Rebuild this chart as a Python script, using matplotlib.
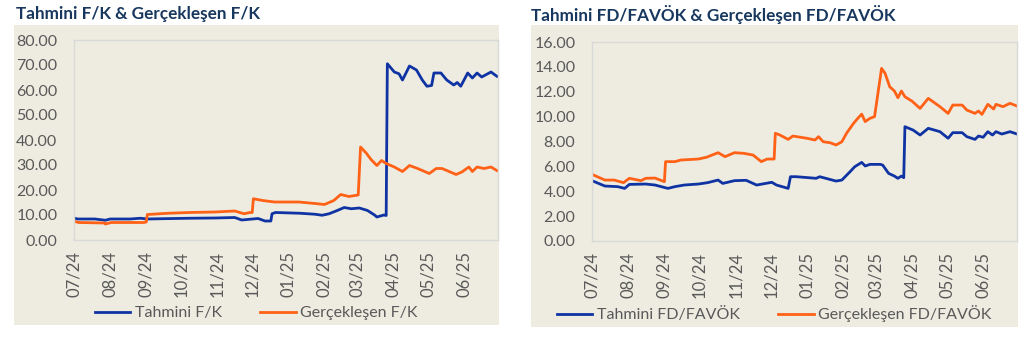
import matplotlib
matplotlib.use("Agg")
import matplotlib.pyplot as plt
import matplotlib.dates as mdates
import pandas as pd
from matplotlib.patches import Rectangle

plt.rcParams['font.family'] = ['Lato', 'DejaVu Sans']

# --- sol grafik: F/K ---
fk_tahmini_tarih = ["2024-07-01", "2024-07-04", "2024-07-19", "2024-07-28", "2024-08-01", "2024-08-18",
                    "2024-08-27", "2024-09-02", "2024-09-13", "2024-10-08", "2024-10-30", "2024-11-16",
                    "2024-11-22", "2024-11-29", "2024-12-06", "2024-12-12", "2024-12-17", "2024-12-18",
                    "2024-12-21", "2025-01-11", "2025-01-24", "2025-01-30", "2025-02-05", "2025-02-12",
                    "2025-02-18", "2025-02-24", "2025-03-03", "2025-03-10", "2025-03-16", "2025-03-18",
                    "2025-03-24", "2025-03-26", "2025-03-27", "2025-04-02", "2025-04-06", "2025-04-09",
                    "2025-04-15", "2025-04-21", "2025-04-26", "2025-04-30", "2025-05-04", "2025-05-06",
                    "2025-05-12", "2025-05-17", "2025-05-23", "2025-05-26", "2025-05-29", "2025-06-04",
                    "2025-06-08", "2025-06-12", "2025-06-16", "2025-06-24", "2025-06-29"]
fk_tahmini = [8.8, 8.4, 8.4, 7.9, 8.4, 8.4,
              8.7, 8.4, 8.5, 8.7, 8.8, 9.0,
              8.0, 8.3, 8.6, 7.6, 7.6, 10.5,
              11.0, 10.7, 10.3, 9.9, 10.5, 11.8,
              13.0, 12.5, 12.8, 11.8, 10.0, 9.2,
              10.0, 9.8, 70.5, 67.2, 66.5, 64.0,
              69.6, 68.0, 64.0, 61.5, 61.8, 66.8,
              66.8, 64.0, 62.0, 63.0, 61.5, 66.8,
              64.8, 66.8, 65.2, 67.2, 65.5]

fk_gercek_tarih = ["2024-07-01", "2024-07-05", "2024-07-27", "2024-07-28", "2024-08-02", "2024-08-30",
                   "2024-09-01", "2024-09-02", "2024-09-20", "2024-10-08", "2024-10-30", "2024-11-16",
                   "2024-11-24", "2024-11-29", "2024-12-01", "2024-12-02", "2024-12-10", "2024-12-20",
                   "2025-01-10", "2025-01-24", "2025-02-01", "2025-02-09", "2025-02-15", "2025-02-22",
                   "2025-03-02", "2025-03-04", "2025-03-09", "2025-03-13", "2025-03-18", "2025-03-22",
                   "2025-03-26", "2025-04-02", "2025-04-09", "2025-04-15", "2025-04-22", "2025-05-02",
                   "2025-05-08", "2025-05-13", "2025-05-25", "2025-05-30", "2025-06-05", "2025-06-08",
                   "2025-06-12", "2025-06-18", "2025-06-24", "2025-06-29"]
fk_gercek = [7.5, 7.0, 6.8, 6.4, 7.0, 7.0,
             7.2, 10.2, 10.7, 11.0, 11.2, 11.6,
             10.5, 11.0, 11.0, 16.5, 15.8, 15.2,
             15.2, 14.6, 14.2, 15.8, 18.2, 17.4,
             18.0, 37.2, 34.7, 32.2, 29.8, 31.8,
             30.6, 29.2, 27.4, 29.8, 28.6, 26.6,
             28.6, 28.6, 26.2, 27.2, 29.2, 27.4,
             29.2, 28.6, 29.2, 27.8]

# --- sağ grafik: FD/FAVÖK ---
fd_tahmini_tarih = ["2024-07-01", "2024-07-12", "2024-07-23", "2024-07-29", "2024-08-02", "2024-08-16",
                    "2024-08-24", "2024-09-04", "2024-09-10", "2024-09-18", "2024-09-30", "2024-10-08",
                    "2024-10-17", "2024-10-21", "2024-10-31", "2024-11-10", "2024-11-19", "2024-12-02",
                    "2024-12-06", "2024-12-16", "2024-12-18", "2024-12-23", "2025-01-09", "2025-01-12",
                    "2025-01-26", "2025-01-31", "2025-02-07", "2025-02-11", "2025-02-17", "2025-02-20",
                    "2025-02-24", "2025-03-05", "2025-03-07", "2025-03-12", "2025-03-17", "2025-03-20",
                    "2025-03-23", "2025-03-25", "2025-03-26", "2025-04-02", "2025-04-08", "2025-04-15",
                    "2025-04-25", "2025-05-02", "2025-05-06", "2025-05-14", "2025-05-18", "2025-05-25",
                    "2025-05-28", "2025-06-01", "2025-06-05", "2025-06-09", "2025-06-12", "2025-06-17",
                    "2025-06-24", "2025-06-30"]
fd_tahmini = [4.85, 4.42, 4.37, 4.23, 4.55, 4.58,
              4.50, 4.23, 4.37, 4.50, 4.58, 4.69,
              4.90, 4.63, 4.85, 4.88, 4.50, 4.72,
              4.50, 4.23, 5.17, 5.17, 5.04, 5.17,
              4.82, 4.90, 5.57, 5.97, 6.32, 6.03,
              6.16, 6.16, 6.10, 5.44, 5.22, 5.04,
              5.22, 5.09, 9.19, 8.92, 8.52, 9.06,
              8.79, 8.26, 8.71, 8.71, 8.39, 8.17,
              8.44, 8.34, 8.79, 8.52, 8.79, 8.60,
              8.79, 8.60]

fd_gercek_tarih = ["2024-07-01", "2024-07-12", "2024-07-20", "2024-07-28", "2024-08-02", "2024-08-12",
                   "2024-08-16", "2024-08-24", "2024-09-01", "2024-09-02", "2024-09-10", "2024-09-15",
                   "2024-09-30", "2024-10-07", "2024-10-17", "2024-10-23", "2024-10-31", "2024-11-08",
                   "2024-11-16", "2024-11-23", "2024-11-28", "2024-12-04", "2024-12-05", "2024-12-09",
                   "2024-12-16", "2024-12-20", "2025-01-01", "2025-01-08", "2025-01-11", "2025-01-15",
                   "2025-01-21", "2025-01-26", "2025-01-31", "2025-02-04", "2025-02-07", "2025-02-10",
                   "2025-02-14", "2025-02-17", "2025-02-20", "2025-02-24", "2025-02-28", "2025-03-06",
                   "2025-03-09", "2025-03-13", "2025-03-17", "2025-03-20", "2025-03-23", "2025-03-26",
                   "2025-04-01", "2025-04-08", "2025-04-15", "2025-04-25", "2025-05-02", "2025-05-06",
                   "2025-05-14", "2025-05-18", "2025-05-25", "2025-05-28", "2025-05-31", "2025-06-05",
                   "2025-06-10", "2025-06-12", "2025-06-18", "2025-06-24", "2025-06-30"]
fd_gercek = [5.36, 4.90, 4.90, 4.69, 5.04, 4.85,
             5.04, 5.06, 4.77, 6.38, 6.38, 6.51,
             6.59, 6.73, 7.10, 6.78, 7.10, 7.05,
             6.91, 6.38, 6.59, 6.59, 8.66, 8.52,
             8.17, 8.44, 8.26, 8.12, 8.39, 7.98,
             7.90, 7.72, 7.98, 8.66, 9.06, 9.46,
             9.90, 10.20, 9.60, 9.86, 10.00, 13.88,
             13.48, 12.40, 12.06, 11.52, 12.06, 11.60,
             11.25, 10.66, 11.47, 10.80, 10.26, 10.93,
             10.93, 10.53, 10.26, 10.45, 10.18, 10.99,
             10.61, 10.99, 10.80, 11.07, 10.85]

fk_yticks = [0, 10, 20, 30, 40, 50, 60, 70, 80]
fd_yticks = [0, 2, 4, 6, 8, 10, 12, 14, 16]

MAVI = "#0F33A3"
TURUNCU = "#FF6116"
BASLIK = "#17375E"
GRI = "#595959"
ZEMIN = "#EEECE1"

fig = plt.figure(figsize=(10.24, 3.39), dpi=100)
W, H = 1024, 339


def kutu(x0, y0, x1, y1):
    # piksel koordinatlarını figür oranına çevir (y yukarıdan)
    return [x0 / W, 1 - y1 / H, (x1 - x0) / W, (y1 - y0) / H]


def panel(bg, ax_box, title_x, title, seriler, yticks, legend_y):
    b = kutu(*bg)
    fig.patches.append(Rectangle((b[0], b[1]), b[2], b[3], transform=fig.transFigure,
                                 facecolor=ZEMIN, edgecolor="none", zorder=-5))
    fig.text(title_x / W, 1 - 14 / H, title, fontsize=12.3, fontweight="bold",
             color=BASLIK, va="center", ha="left")
    ax = fig.add_axes(kutu(*ax_box))
    ax.set_facecolor(ZEMIN)
    for tarih, deger, renk, ad in seriler:
        ax.plot(pd.to_datetime(tarih), deger, color=renk, lw=2.0, label=ad,
                solid_joinstyle="round")
    ax.set_xlim(pd.Timestamp("2024-07-01"), pd.Timestamp("2025-06-30"))
    ax.set_ylim(yticks[0], yticks[-1])
    ax.set_yticks(yticks)
    ax.set_yticklabels([f"{v:.2f}" for v in yticks])
    ax.xaxis.set_major_locator(mdates.MonthLocator())
    ax.xaxis.set_major_formatter(mdates.DateFormatter("%m/%y"))
    ax.tick_params(axis="x", length=0, pad=8, labelsize=12, labelcolor=GRI, rotation=90)
    ax.tick_params(axis="y", length=0, pad=12, labelsize=11.5, labelcolor=GRI)
    for s in ax.spines.values():
        s.set_color("#D9D9D9")
        s.set_linewidth(1.0)
    cx = (bg[0] + bg[2]) / 2
    ax.legend(loc="center", bbox_to_anchor=(cx / W, 1 - legend_y / H),
              bbox_transform=fig.transFigure, ncol=2, frameon=False,
              fontsize=11.5, labelcolor=GRI, handlelength=2.2, handletextpad=0.3,
              columnspacing=2.4)
    return ax


panel((14, 25, 499, 325), (74, 40, 498, 240), 16, "Tahmini F/K & Gerçekleşen F/K",
      [(fk_tahmini_tarih, fk_tahmini, MAVI, "Tahmini F/K"),
       (fk_gercek_tarih, fk_gercek, TURUNCU, "Gerçekleşen F/K")],
      fk_yticks, 313)

panel((531, 25, 1018, 327), (592, 42, 1017, 241), 531, "Tahmini FD/FAVÖK & Gerçekleşen FD/FAVÖK",
      [(fd_tahmini_tarih, fd_tahmini, MAVI, "Tahmini FD/FAVÖK"),
       (fd_gercek_tarih, fd_gercek, TURUNCU, "Gerçekleşen FD/FAVÖK")],
      fd_yticks, 314)

fig.savefig("out.png", dpi=100)
